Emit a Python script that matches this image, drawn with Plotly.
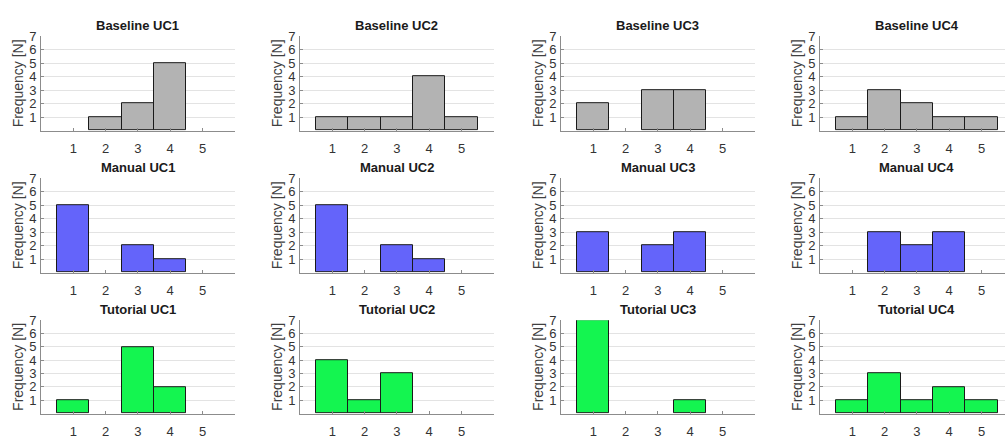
import plotly.graph_objects as go

bins = [1, 2, 3, 4, 5]
groups = ["Baseline", "Manual", "Tutorial"]
use_cases = ["UC1", "UC2", "UC3", "UC4"]

baseline_uc1 = [0, 1, 2, 5, 0]
baseline_uc2 = [1, 1, 1, 4, 1]
baseline_uc3 = [2, 0, 3, 3, 0]
baseline_uc4 = [1, 3, 2, 1, 1]
manual_uc1 = [5, 0, 2, 1, 0]
manual_uc2 = [5, 0, 2, 1, 0]
manual_uc3 = [3, 0, 2, 3, 0]
manual_uc4 = [0, 3, 2, 3, 0]
tutorial_uc1 = [1, 0, 5, 2, 0]
tutorial_uc2 = [4, 1, 3, 0, 0]
tutorial_uc3 = [7, 0, 0, 1, 0]
tutorial_uc4 = [1, 3, 1, 2, 1]

values = [
    [baseline_uc1, baseline_uc2, baseline_uc3, baseline_uc4],
    [manual_uc1, manual_uc2, manual_uc3, manual_uc4],
    [tutorial_uc1, tutorial_uc2, tutorial_uc3, tutorial_uc4],
]
colors = ["#B3B3B3", "#6464FA", "#14F550"]

W, H = 1005, 439
col_left = [41, 300, 561, 820]
px_per_unit = 32.3
row_px = [(30, 127), (176, 273), (322, 418)]

fig = go.Figure()
annotations = []
font_family = "Liberation Sans, Arial, sans-serif"
idx = 0
for r in range(3):
    for c in range(4):
        idx += 1
        xa = "x" if idx == 1 else f"x{idx}"
        ya = "y" if idx == 1 else f"y{idx}"
        counts = values[r][c]
        fig.add_trace(go.Bar(
            x=bins, y=[v if v else None for v in counts], width=1,
            marker=dict(color=colors[r], line=dict(color="#1a1a1a", width=1)),
            xaxis=xa, yaxis=ya, showlegend=False, hoverinfo="x+y",
        ))
        left = col_left[c]
        right = min(left + 6 * px_per_unit, W)
        xmax = (right - left) / px_per_unit
        top, bot = row_px[r]
        axis_common = dict(
            showline=True, linecolor="#8c8c8c", linewidth=1,
            ticks="inside", ticklen=3, tickcolor="#8c8c8c",
            tickfont=dict(family=font_family, size=13, color="#333333"),
            zeroline=False,
        )
        fig.layout[f"xaxis{idx}"] = dict(
            domain=[left / W, right / W], range=[0, xmax],
            anchor=ya, tickvals=bins, showgrid=False,
            ticklabelstandoff=6, **axis_common,
        )
        fig.layout[f"yaxis{idx}"] = dict(
            domain=[1 - bot / H, 1 - top / H], range=[0, 7],
            anchor=xa, tickvals=[1, 2, 3, 4, 5, 6, 7],
            showgrid=True, gridcolor="#e3e3e3", gridwidth=1,
            ticklabelstandoff=1, **axis_common,
        )
        annotations.append(dict(
            text=f"<b>{groups[r]} {use_cases[c]}</b>",
            x=(left + (left + 6 * px_per_unit)) / 2 / W, y=1 - (top - 11) / H,
            xref="paper", yref="paper", xanchor="center", yanchor="middle",
            showarrow=False, font=dict(family=font_family, size=13, color="#1a1a1a"),
        ))
        annotations.append(dict(
            text="Frequency [N]", textangle=-90,
            x=(left - 23) / W, y=1 - ((top + bot) / 2) / H,
            xref="paper", yref="paper", xanchor="center", yanchor="middle",
            showarrow=False, font=dict(family=font_family, size=14, color="#404040"),
        ))

fig.update_layout(
    width=W, height=H, margin=dict(l=0, r=0, t=0, b=0),
    paper_bgcolor="white", plot_bgcolor="white",
    annotations=annotations, bargap=0,
)
fig.write_html(
    "out.html",
    config={"displayModeBar": False},
    post_script="document.body.style.margin='0';document.body.style.overflow='hidden';",
)
